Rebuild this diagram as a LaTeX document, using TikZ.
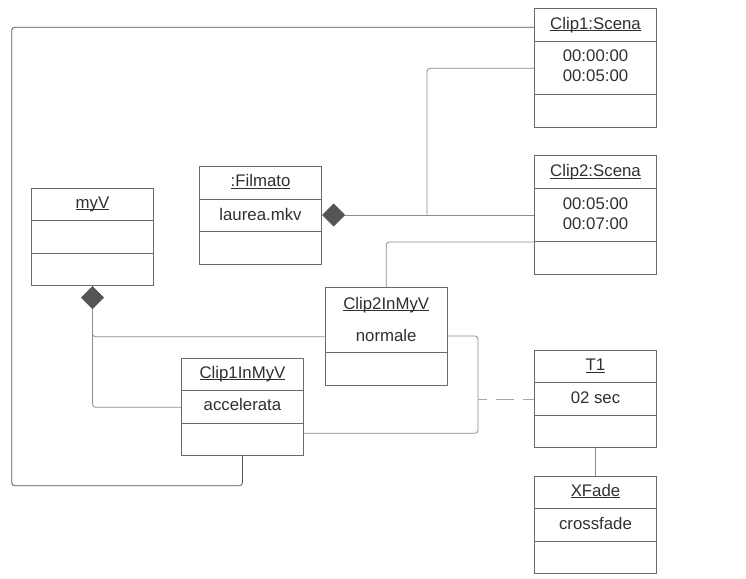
\documentclass[tikz,border=0pt]{standalone}
\usepackage{fontspec}
\setmainfont{Liberation Sans}
\usetikzlibrary{arrows.meta}
\definecolor{txt}{HTML}{303030}
\definecolor{bord}{HTML}{6A6A6A}
\definecolor{lnA}{HTML}{555555}
\definecolor{lnB}{HTML}{8C8C8C}
\definecolor{lnC}{HTML}{A8A8A8}
\definecolor{dia}{HTML}{555555}
\newcommand\myul[1]{\leavevmode\setbox0\hbox{#1}\rlap{\rule[-1.6pt]{\wd0}{0.7pt}}\box0}
\begin{document}
\begin{tikzpicture}[x=1pt,y=-1pt,
  umlbox/.style={draw=bord, line width=0.8pt, minimum width=122.4pt, inner sep=0pt, fill=white},
  divline/.style={draw=bord, line width=0.8pt},
  lbl/.style={text=txt, font=\fontsize{16.8}{20}\selectfont, anchor=base, inner sep=0pt},
  conn/.style={draw=lnB, line width=0.8pt, rounded corners=3pt},
  connd/.style={conn, draw=lnA},
  comp/.style={-{Diamond[length=23pt,width=23pt,fill=dia,color=dia]}}
]
\useasboundingbox[fill=white] (0,0) rectangle (746,578);

% Clip1:Scena
\node[umlbox, minimum height=119pt] (clip1) at (595.5,67.8) {};
\draw[divline] (clip1.west |- 0,41.3) -- (clip1.east |- 0,41.3);
\draw[divline] (clip1.west |- 0,94) -- (clip1.east |- 0,94);
\node[lbl] (clip1t) at (595.5,29.3) {\myul{Clip1:Scena}};
\node[lbl] (clip1a) at (595.5,61.7) {00:00:00};
\node[lbl] (clip1b) at (595.5,81.7) {00:05:00};

% Clip2:Scena
\node[umlbox, minimum height=118.6pt] (clip2) at (595.5,215) {};
\draw[divline] (clip2.west |- 0,188.3) -- (clip2.east |- 0,188.3);
\draw[divline] (clip2.west |- 0,241.3) -- (clip2.east |- 0,241.3);
\node[lbl] (clip2t) at (595.5,176.7) {\myul{Clip2:Scena}};
\node[lbl] (clip2a) at (595.5,209.3) {00:05:00};
\node[lbl] (clip2b) at (595.5,229.7) {00:07:00};

% :Filmato
\node[umlbox, minimum height=97.7pt] (film) at (260.5,215.2) {};
\draw[divline] (film.west |- 0,199) -- (film.east |- 0,199);
\draw[divline] (film.west |- 0,231.3) -- (film.east |- 0,231.3);
\node[lbl] (filmt) at (260.5,186.7) {\myul{:Filmato}};
\node[lbl] (filma) at (260.5,220) {laurea.mkv};

% myV
\node[umlbox, minimum height=97pt] (myv) at (92.5,237.2) {};
\draw[divline] (myv.west |- 0,220.7) -- (myv.east |- 0,220.7);
\draw[divline] (myv.west |- 0,253.3) -- (myv.east |- 0,253.3);
\node[lbl] (myvt) at (92.5,208.3) {\myul{myV}};

% Clip2InMyV
\node[umlbox, minimum height=98pt] (c2iv) at (386.2,336.3) {};
\draw[divline] (c2iv.west |- 0,352) -- (c2iv.east |- 0,352);
\node[lbl] (c2ivt) at (386.2,309.3) {\myul{Clip2InMyV}};
\node[lbl] (c2iva) at (386.2,341) {normale};

% Clip1InMyV
\node[umlbox, minimum height=97.4pt] (c1iv) at (242.5,407) {};
\draw[divline] (c1iv.west |- 0,390.7) -- (c1iv.east |- 0,390.7);
\draw[divline] (c1iv.west |- 0,423.3) -- (c1iv.east |- 0,423.3);
\node[lbl] (c1ivt) at (242.5,378.3) {\myul{Clip1InMyV}};
\node[lbl] (c1iva) at (242.5,410) {accelerata};

% T1
\node[umlbox, minimum height=97pt] (t1) at (595.5,398.8) {};
\draw[divline] (t1.west |- 0,382.7) -- (t1.east |- 0,382.7);
\draw[divline] (t1.west |- 0,415.3) -- (t1.east |- 0,415.3);
\node[lbl] (t1t) at (595.5,370.7) {\myul{T1}};
\node[lbl] (t1a) at (595.5,403.3) {02 sec};

% XFade
\node[umlbox, minimum height=97.4pt] (xf) at (595.5,525) {};
\draw[divline] (xf.west |- 0,508.7) -- (xf.east |- 0,508.7);
\draw[divline] (xf.west |- 0,541.3) -- (xf.east |- 0,541.3);
\node[lbl] (xft) at (595.5,496.3) {\myul{XFade}};
\node[lbl] (xfa) at (595.5,529) {crossfade};

% connectors
\coordinate (fj) at (427,215);
\draw[conn] (clip1.west |- 0,68.3) -| (fj);
\draw[conn, comp] (clip2.west |- 0,215) -- (film.east |- 0,215);

\draw[conn] (clip2.west |- 0,242) -| (c2iv.north);

\draw[conn] (c2iv.west |- 0,336.7) -| (myv.south);
\draw[conn, comp] (c1iv.west |- 0,407.3) -| (myv.south);

\draw[connd] (clip1.west |- 0,27.3) -| (11.7,485.7) -| (c1iv.south);

\coordinate (dj) at (478,399);
\draw[conn] (c2iv.east |- 0,336) -| (478,433.3) -- (c1iv.east |- 0,433.3);
\draw[draw=lnC, line width=0.8pt, dash pattern=on 18pt off 9pt, dash phase=9pt] (dj) -- (t1.west |- dj);

\draw[conn] (t1.south) -- (xf.north);
\end{tikzpicture}
\end{document}
